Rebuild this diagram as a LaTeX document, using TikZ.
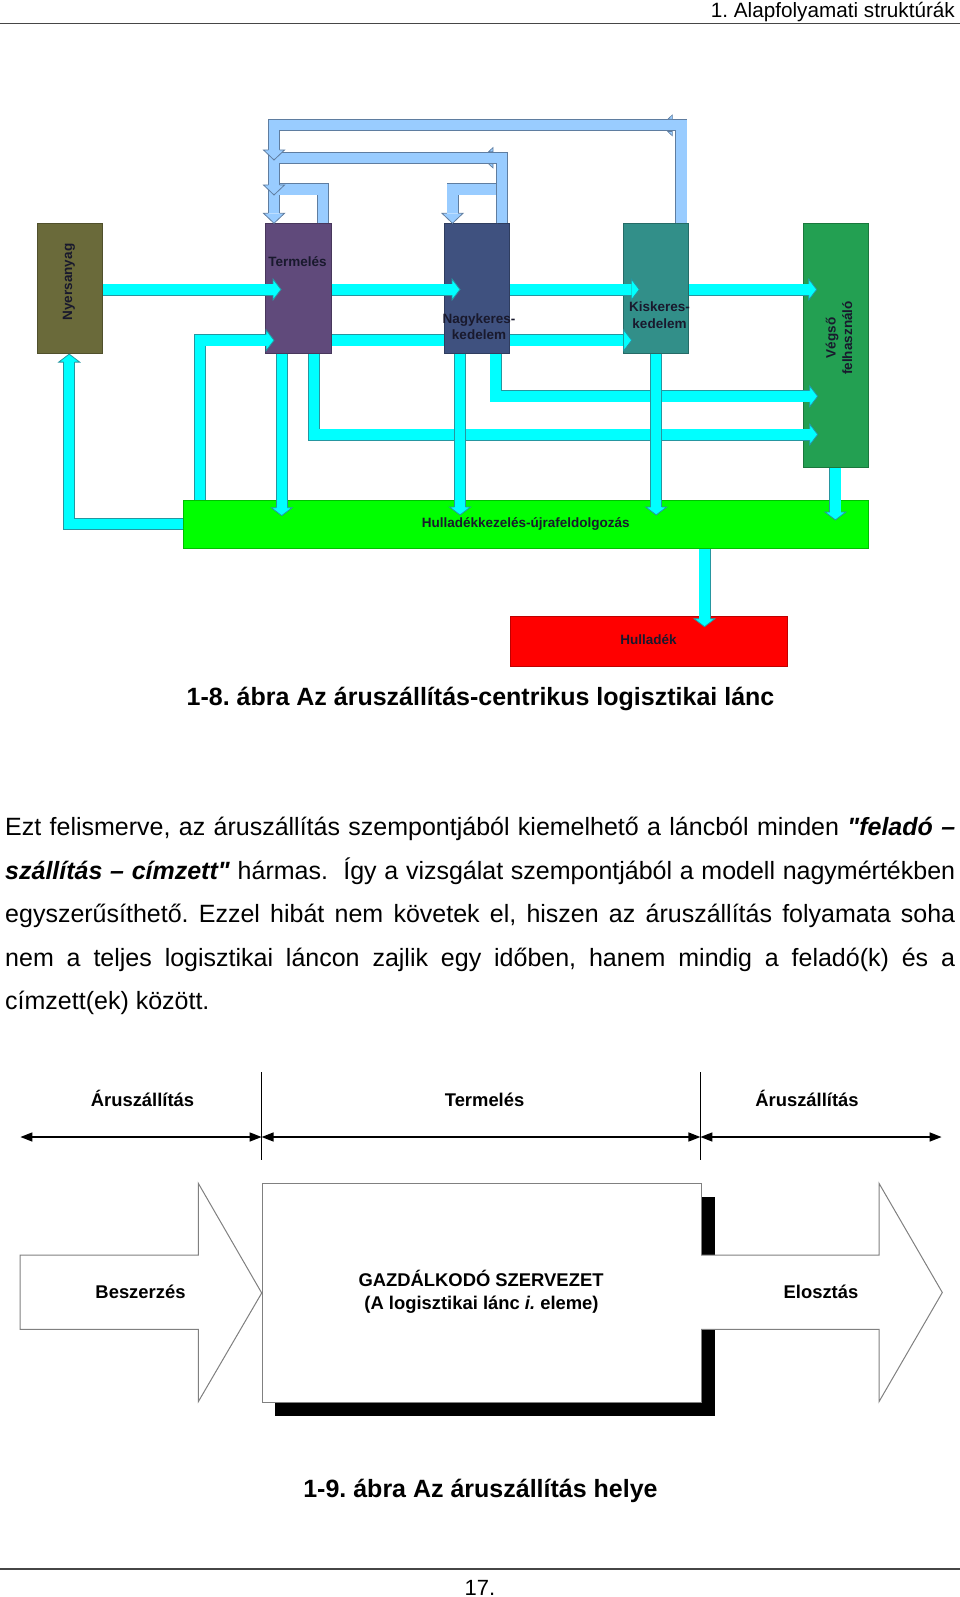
\documentclass[tikz,border=0pt]{standalone}
\usepackage{fontspec}
\setmainfont{Liberation Sans}[Ligatures=TeXOff]
\frenchspacing
\usetikzlibrary{calc,arrows.meta,backgrounds}
\definecolor{cyanF}{RGB}{0,255,255}
\definecolor{cyanB}{RGB}{38,150,160}
\definecolor{blueF}{RGB}{153,204,255}
\definecolor{blueB}{RGB}{95,125,160}
\definecolor{nyersC}{RGB}{106,106,58}
\definecolor{termC}{RGB}{96,74,123}
\definecolor{nagyC}{RGB}{63,81,127}
\definecolor{kiskC}{RGB}{50,143,137}
\definecolor{vegsoC}{RGB}{35,160,82}
\definecolor{greenC}{RGB}{0,255,0}
\definecolor{redC}{RGB}{255,0,0}
\definecolor{lblC}{RGB}{25,25,45}
\definecolor{ruleC}{RGB}{70,70,70}
\definecolor{greyC}{RGB}{128,128,128}
\tikzset{
  colbox/.style={draw=#1!75!black, fill=#1, line width=0.8pt, inner sep=0pt, anchor=north west},
  cshaft/.style={draw=cyanB, line width=0.8pt, double=cyanF, double distance=10.4pt, line join=miter},
  bshaft/.style={draw=blueB, line width=0.8pt, double=blueF, double distance=10.4pt, line join=miter},
  lbl/.style={text=lblC, font=\bfseries\fontsize{13.5}{16.7}\selectfont, inner sep=0pt},
  lbltwo/.style={font=\bfseries\fontsize{18.4}{23.4}\selectfont, inner sep=0pt, anchor=base},
  captxt/.style={font=\bfseries\fontsize{25}{30}\selectfont, inner sep=0pt, anchor=base},
  bodytxt/.style={font=\fontsize{25}{43.5}\selectfont, inner sep=0pt, anchor=base west},
  dimarrow/.style={line width=1.5pt, {Triangle[length=12pt,width=9pt]}-{Triangle[length=12pt,width=9pt]}},
  greyline/.style={draw=greyC, line width=1pt},
  barb/.style={fill=blueF, draw=blueB, line width=0.6pt},
  chead/.pic={
    \fill[cyanF] (-8,-10.5) -- (0,0) -- (-8,10.5) -- cycle;
    \draw[cyanB,line width=0.8pt,line join=miter] (-8,-5.6) -- (-8,-10.5) -- (0,0) -- (-8,10.5) -- (-8,5.6);
  },
  bhead/.pic={
    \fill[blueF] (-10,-10.5) -- (0,0) -- (-10,10.5) -- cycle;
    \draw[blueB,line width=0.8pt,line join=miter] (-10,-5.6) -- (-10,-10.5) -- (0,0) -- (-10,10.5) -- (-10,5.6);
  },
}
\begin{document}
\begin{tikzpicture}[x=1pt,y=-1pt]
\useasboundingbox (0,0) rectangle (960,1597);
% header
\coordinate (hrL) at (0,23.4); \coordinate (hrR) at (960,23.4);
\draw[ruleC, line width=1.6pt] (hrL) -- (hrR);
\node[inner sep=0pt, anchor=base east, font=\fontsize{20.7}{24}\selectfont] (hdr) at (955,18) {1. Alapfolyamati struktúrák};

% boxes
\node[colbox=nyersC, minimum width=65.3pt, minimum height=130pt] (nyers) at (36.7,223.3) {};
\node[colbox=termC, minimum width=65.7pt, minimum height=130pt] (term) at (265,223.3) {};
\node[colbox=nagyC, minimum width=65.3pt, minimum height=130pt] (nagy) at (444,223.3) {};
\node[colbox=kiskC, minimum width=65pt, minimum height=130pt] (kisk) at (623.3,223.3) {};
\node[colbox=vegsoC, minimum width=65.3pt, minimum height=243.4pt] (vegso) at (802.7,223.3) {};
\node[colbox=greenC, minimum width=684.7pt, minimum height=48pt] (green) at (183.3,500) {};
\node[colbox=redC, minimum width=277pt, minimum height=49.7pt] (red) at (510,616) {};

% lanes
\coordinate (r1) at (0,289.5);
\coordinate (r2) at (0,340.3);
\coordinate (r3) at (0,396.3);
\coordinate (r4) at (0,434.5);
\coordinate (r5) at (0,524.2);
\coordinate (xb1) at (200,0);
\coordinate (xc1) at (281.7,0);
\coordinate (xc2) at (313.8,0);
\coordinate (xd1) at (460,0);
\coordinate (xd2) at (495.5,0);
\coordinate (xe1) at (656.2,0);
\coordinate (xf1) at (835.4,0);
\coordinate (xg1) at (704.5,0);
\coordinate (xh1) at (69.2,0);
\coordinate (lo) at (0,125.3);
\coordinate (lm) at (0,157.8);
\coordinate (li) at (0,189.5);
\coordinate (xl) at (274,0);
\coordinate (xk) at (681.3,0);
\coordinate (xn) at (502,0);
\coordinate (xt) at (322.8,0);
\coordinate (xs) at (452.5,0);
\coordinate (tipO) at (274,160);
\coordinate (tipM) at (274,195);

% light blue return loops
\draw[bshaft] (term.north -| xt) -- (xt |- li) -- (xl |- li) -- ($(term.north -| xl)+(0,-10)$);
\pic[rotate=-90] at (term.north -| xl) {bhead};
\draw[bshaft] (nagy.north -| xn) -- (xn |- li) -- (xs |- li) -- ($(nagy.north -| xs)+(0,-10)$);
\pic[rotate=-90] at (nagy.north -| xs) {bhead};
\draw[bshaft] (nagy.north -| xn) -- (xn |- lm) -- (xl |- lm) -- ($(tipM)+(0,-10)$);
\pic[rotate=-90] at (tipM) {bhead};
\draw[barb] (493,147.5) -- (488.5,151.8) -- (493,151.8) -- cycle;
\draw[barb] (493,163.8) -- (488.5,163.8) -- (493,168) -- cycle;
\draw[bshaft] (kisk.north -| xk) -- (xk |- lo) -- (xl |- lo) -- ($(tipO)+(0,-10)$);
\pic[rotate=-90] at (tipO) {bhead};
\draw[barb] (672.3,115) -- (667.7,119.3) -- (672.3,119.3) -- cycle;
\draw[barb] (672.3,131.5) -- (667.7,131.5) -- (672.3,135.8) -- cycle;

% cyan flows
\begin{scope}[on background layer]
\draw[cshaft] (term.east |- r2) -- ($(kisk.west |- r2)+(0.4,0)$);
\end{scope}
\pic at ($(kisk.west |- r2)+(8.4,0)$) {chead};
\draw[cshaft] (green.north -| xb1) -- (xb1 |- r2) -- ($(term.west |- r2)+(1,0)$);
\pic at ($(term.west |- r2)+(9,0)$) {chead};
\draw[cshaft] (nyers.east |- r1) -- ($(term.west |- r1)+(8,0)$);
\pic at ($(term.west |- r1)+(16,0)$) {chead};
\draw[cshaft] (term.east |- r1) -- ($(nagy.west |- r1)+(8,0)$);
\pic at ($(nagy.west |- r1)+(16,0)$) {chead};
\draw[cshaft] (nagy.east |- r1) -- ($(kisk.west |- r1)+(8,0)$);
\pic at ($(kisk.west |- r1)+(16,0)$) {chead};
\draw[cshaft] (kisk.east |- r1) -- ($(vegso.west |- r1)+(6,0)$);
\pic at ($(vegso.west |- r1)+(14,0)$) {chead};
\draw[cshaft] (term.south -| xc2) -- (xc2 |- r4) -- ($(vegso.west |- r4)+(7,0)$);
\pic at ($(vegso.west |- r4)+(15,0)$) {chead};
\draw[cshaft] (nagy.south -| xd2) -- (xd2 |- r3) -- ($(vegso.west |- r3)+(7,0)$);
\pic at ($(vegso.west |- r3)+(15,0)$) {chead};
\draw[cshaft] (green.west |- r5) -- (xh1 |- r5) -- ($(nyers.south -| xh1)+(0,8)$);
\pic[rotate=90] at (nyers.south -| xh1) {chead};
\draw[cshaft] (term.south -| xc1) -- ($(green.north -| xc1)+(0,7.7)$);
\pic[rotate=-90] at ($(green.north -| xc1)+(0,15.7)$) {chead};
\draw[cshaft] (nagy.south -| xd1) -- ($(green.north -| xd1)+(0,7)$);
\pic[rotate=-90] at ($(green.north -| xd1)+(0,15)$) {chead};
\draw[cshaft] (kisk.south -| xe1) -- ($(green.north -| xe1)+(0,7)$);
\pic[rotate=-90] at ($(green.north -| xe1)+(0,15)$) {chead};
\draw[cshaft] (vegso.south -| xf1) -- ($(green.north -| xf1)+(0,12)$);
\pic[rotate=-90] at ($(green.north -| xf1)+(0,20)$) {chead};
\draw[cshaft] (green.south -| xg1) -- ($(red.north -| xg1)+(0,2.7)$);
\pic[rotate=-90] at ($(red.north -| xg1)+(0,10.7)$) {chead};

% labels diagram 1
\node[lbl, rotate=90] (nyersT) at (69,282) {Nyersanyag};
\node[lbl] (termT) at (297.5,261.7) {Termelés};
\node[lbl, align=center] (nagyT) at (479,326.7) {Nagykeres-\\kedelem};
\node[lbl, align=center] (kiskT) at (659.5,315.3) {Kiskeres-\\kedelem};
\node[lbl, rotate=90, align=center] (vegsoT) at (839,338) {Végső\\felhasználó};
\node[lbl] (greenT) at (525.8,524) {Hulladékkezelés-újrafeldolgozás};
\node[lbl] (redT) at (648.5,639.8) {Hulladék};

\node[captxt] (cap1) at (480.5,705) {1-8. ábra Az áruszállítás-centrikus logisztikai lánc};

% body text
\node[bodytxt] (p1) at (5,835.5) {\makebox[950pt][s]{Ezt felismerve, az áruszállítás szempontjából kiemelhető a láncból minden \textbf{\textit{"feladó –}}}};
\node[bodytxt] (p2) at (5,879) {\makebox[950pt][s]{\textbf{\textit{szállítás – címzett"}} hármas.\ \ Így a vizsgálat szempontjából a modell nagymértékben}};
\node[bodytxt] (p3) at (5,922.5) {\makebox[950pt][s]{egyszerűsíthető. Ezzel hibát nem követek el, hiszen az áruszállítás folyamata soha}};
\node[bodytxt] (p4) at (5,966) {\makebox[950pt][s]{nem a teljes logisztikai láncon zajlik egy időben, hanem mindig a feladó(k) és a}};
\node[bodytxt] (p5) at (5,1009.5) {címzett(ek) között.};

% diagram 2
\coordinate (dL) at (20.4,1137);
\coordinate (dM1) at (261.6,1137);
\coordinate (dM2) at (700.4,1137);
\coordinate (dR) at (941.6,1137);
\coordinate (v1t) at (261.6,1072); \coordinate (v1b) at (261.6,1160);
\coordinate (v2t) at (700.4,1072); \coordinate (v2b) at (700.4,1160);
\draw[line width=1pt] (v1t) -- (v1b);
\draw[line width=1pt] (v2t) -- (v2b);
\draw[dimarrow] (dL) -- (dM1);
\draw[dimarrow] (dM1) -- (dM2);
\draw[dimarrow] (dM2) -- (dR);
\node[lbltwo] (lab1) at (142.5,1106.5) {Áruszállítás};
\node[lbltwo] (lab2) at (484.6,1106.5) {Termelés};
\node[lbltwo] (lab3) at (807,1106.5) {Áruszállítás};

\node[fill=black, inner sep=0pt, minimum width=439.3pt, minimum height=219.3pt, anchor=north west] (gazsh) at (275,1196.7) {};
\node[draw=greyC, fill=white, line width=1pt, inner sep=0pt, minimum width=439pt, minimum height=218.4pt, anchor=north west] (gaz) at (261.7,1183.3) {};
\filldraw[fill=white, greyline, line join=miter] (20,1255) -- (198.3,1255) -- (198.3,1183.3) -- (gaz.west) -- (198.3,1401.7) -- (198.3,1329.3) -- (20,1329.3) -- cycle;
\fill[white] (701.2,1255) -- (879,1255) -- (879,1183.3) -- (942.3,1292.5) -- (879,1401.7) -- (879,1329.3) -- (701.2,1329.3) -- cycle;
\draw[greyline, line join=miter] (701.2,1255) -- (879,1255) -- (879,1183.3) -- (942.3,1292.5) -- (879,1401.7) -- (879,1329.3) -- (701.2,1329.3);
\node[lbltwo] (besz) at (140.5,1298.3) {Beszerzés};
\node[lbltwo] (elo) at (821,1298.3) {Elosztás};
\node[lbltwo] (gazT1) at (481,1286.5) {GAZDÁLKODÓ SZERVEZET};
\node[lbltwo] (gazT2) at (481.5,1309) {(A logisztikai lánc \textit{i.} eleme)};

\node[captxt] (cap2) at (480.5,1497) {1-9. ábra Az áruszállítás helye};

% footer
\coordinate (ftL) at (0,1568.7); \coordinate (ftR) at (960,1568.7);
\draw[ruleC, line width=1.6pt] (ftL) -- (ftR);
\node[inner sep=0pt, anchor=base, font=\fontsize{22}{26}\selectfont] (pg) at (480,1595) {17.};
\end{tikzpicture}
\end{document}
